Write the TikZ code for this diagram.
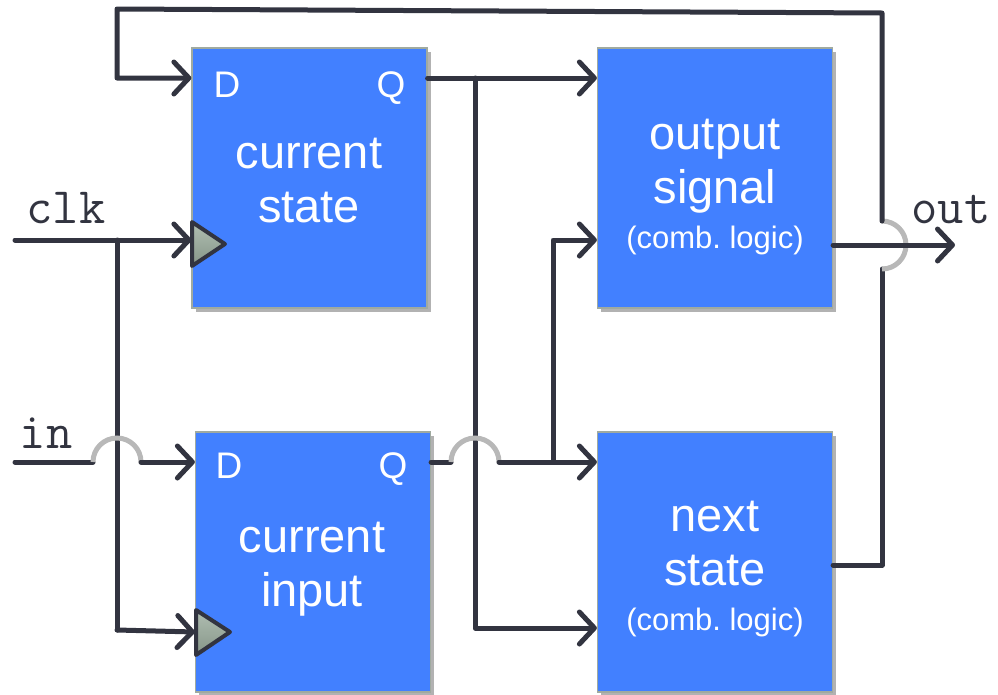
\documentclass[tikz,border=0pt]{standalone}
\usepackage{fontspec}
\setmainfont{Liberation Sans}
\usetikzlibrary{arrows.meta,shadows}

\definecolor{boxblue}{RGB}{66,128,255}
\definecolor{wirec}{RGB}{50,52,64}
\definecolor{hopc}{RGB}{184,184,184}
\definecolor{edgec}{RGB}{160,170,160}
\definecolor{clktop}{RGB}{176,190,178}
\definecolor{clkbot}{RGB}{134,150,136}

\begin{document}
\begin{tikzpicture}[x=1pt,y=-1pt,
  wire/.style={draw=wirec, line width=5pt, line cap=round, line join=round},
  arr/.style={wire, -{Straight Barb[length=15pt,width=32pt,round]}},
  hop/.style={draw=hopc, line width=5pt},
  blk/.style={draw=edgec, line width=1.2pt, fill=boxblue, minimum width=235pt,
    minimum height=260pt, inner sep=0pt,
    drop shadow={shadow xshift=3.5pt, shadow yshift=-3.5pt, fill=black, opacity=0.3}},
  lbl/.style={text=white, font=\fontsize{47}{54}\selectfont, align=center, anchor=base, inner sep=0pt},
  pinl/.style={text=white, font=\fontsize{37}{40}\selectfont, anchor=base, inner sep=0pt},
  subl/.style={text=white, font=\fontsize{31}{36}\selectfont, anchor=base, inner sep=0pt},
  sig/.style={font=\ttfamily\fontsize{51}{56}\selectfont, text=wirec, anchor=base, inner sep=0pt},
  clktri/.style={draw=wirec, line width=4pt, line join=round, top color=clktop, bottom color=clkbot}]

\useasboundingbox (0,0) rectangle (998,694);

% blocks
\node[blk] (cs) at (309.5,178) {};
\node[blk] (ci) at (313,562) {};
\node[blk] (os) at (715,178) {};
\node[blk] (ns) at (715,562) {};

% block texts (base anchor sits on the last line)
\node[pinl] (csd) at (227,97) {D};
\node[pinl] (csq) at (391,97) {Q};
\node[lbl] (cst) at (309,222) {current\\state};
\node[pinl] (cid) at (229,478) {D};
\node[pinl] (ciq) at (393,478) {Q};
\node[lbl] (cit) at (312,606) {current\\input};
\node[lbl] (ost) at (715,203) {output\\signal};
\node[subl] (osc) at (715,248) {(comb.\ logic)};
\node[lbl] (nst) at (715,585) {next\\state};
\node[subl] (nsc) at (715,630) {(comb.\ logic)};

% signal names
\node[sig] (clk) at (66,223) {clk};
\node[sig] (in) at (46,448) {in};
\node[sig] (out) at (951,223) {out};

% rows used by the wires
\coordinate (r78) at (0,78);
\coordinate (r240) at (0,240);
\coordinate (r245) at (0,245);
\coordinate (r462) at (0,462);
\coordinate (r565) at (0,565);
\coordinate (r628) at (0,628);
\coordinate (r632) at (0,632);

% feedback from next state to current state
\draw[wire] (ns.east |- r565) -- (882,565) -- (882,269);
\draw[hop] (882,221) arc[start angle=90, end angle=-90, radius=24pt];
\draw[arr] (882,221) -- (882,13) -- (117,9) -- (117,78) -- (cs.west |- r78);

% output
\draw[arr] (os.east |- r245) -- (955,245);

% clock
\draw[arr] (15,240) -- (cs.west |- r240);
\draw[wire] (117,240) -- (117,630);
\draw[arr] (117,630) -- (ci.west |- r632);

% input
\draw[wire] (15,462) -- (93,462);
\draw[hop] (93,462) arc[start angle=180, end angle=0, radius=24pt];
\draw[arr] (141,462) -- (ci.west |- r462);

% current state Q
\draw[arr] (cs.east |- r78) -- (os.west |- r78);
\draw[arr] (475,78) -- (475,628) -- (ns.west |- r628);

% current input Q
\draw[wire] (ci.east |- r462) -- (451,462);
\draw[hop] (451,462) arc[start angle=180, end angle=0, radius=24pt];
\draw[arr] (499,462) -- (ns.west |- r462);
\draw[arr] (553,462) -- (553,240) -- (os.west |- r240);

% clock inputs
\draw[clktri] (192,222) -- (225,244) -- (192,266) -- cycle;
\draw[clktri] (196,610) -- (230,632) -- (196,655) -- cycle;
\end{tikzpicture}
\end{document}
